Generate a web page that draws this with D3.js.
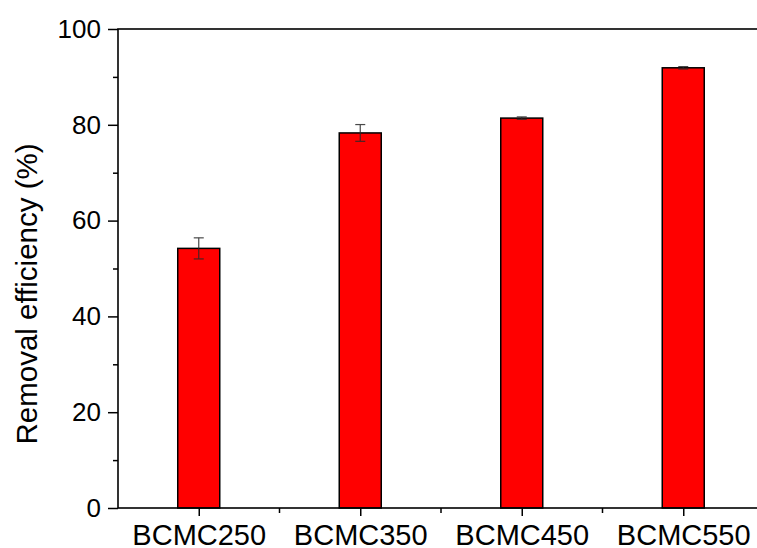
<!DOCTYPE html>
<html>
<head>
<meta charset="utf-8">
<script src="https://cdn.jsdelivr.net/npm/d3@7"></script>
<style>
  html, body { margin: 0; padding: 0; background: #fff; }
  svg { display: block; }
  text { font-family: Arial, "Liberation Sans", sans-serif; fill: #000; }
</style>
</head>
<body>
<svg id="chart" width="757" height="548"></svg>
<script>
// ---- data ----
const categories = ["BCMC250", "BCMC350", "BCMC450", "BCMC550"];
const values = [54.2, 78.3, 81.4, 91.9];
const errors = [2.2, 1.75, 0.25, 0.25];
const yTicks = [0, 20, 40, 60, 80, 100];
const yMinorTicks = [10, 30, 50, 70, 90];
const yLabel = "Removal efficiency (%)";

// ---- layout ----
const plotLeft = 118, plotTop = 29, plotRight = 764, plotBottom = 508;
const barWidth = 42;

const svg = d3.select("#chart");

const x = d3.scaleBand().domain(categories).range([plotLeft, plotRight]).padding(0);
const y = d3.scaleLinear().domain([0, 100]).range([plotBottom, plotTop]);

// bars
svg.append("g").selectAll("rect")
  .data(categories)
  .join("rect")
  .attr("x", (c) => x(c) + x.bandwidth() / 2 - barWidth / 2)
  .attr("y", (c, i) => y(values[i]))
  .attr("width", barWidth)
  .attr("height", (c, i) => y(0) - y(values[i]))
  .attr("fill", "#ff0000")
  .attr("stroke", "#000")
  .attr("stroke-width", 1.5);

// error bars
const eb = svg.append("g").attr("stroke", "#2a2a2a").attr("stroke-width", 1.2).attr("opacity", 0.85);
categories.forEach((c, i) => {
  const cx = x(c) + x.bandwidth() / 2;
  const y1 = y(values[i] + errors[i]), y2 = y(values[i] - errors[i]);
  eb.append("line").attr("x1", cx).attr("x2", cx).attr("y1", y1).attr("y2", y2);
  eb.append("line").attr("x1", cx - 5).attr("x2", cx + 5).attr("y1", y1).attr("y2", y1);
  eb.append("line").attr("x1", cx - 5).attr("x2", cx + 5).attr("y1", y2).attr("y2", y2);
});

// frame
svg.append("rect")
  .attr("x", plotLeft).attr("y", plotTop)
  .attr("width", plotRight - plotLeft).attr("height", plotBottom - plotTop)
  .attr("fill", "none").attr("stroke", "#000").attr("stroke-width", 1.6);

// y axis
const yAxis = d3.axisLeft(y).tickValues(yTicks).tickSize(10).tickPadding(7).tickFormat(d3.format("d"));
const yg = svg.append("g").attr("transform", `translate(${plotLeft},0)`).call(yAxis);
yg.select(".domain").remove();
yg.selectAll(".tick line").attr("stroke", "#000").attr("stroke-width", 1.5);
yg.selectAll(".tick text").style("font-size", "26px").attr("font-family", null);

const yMinor = d3.axisLeft(y).tickValues(yMinorTicks).tickSize(5).tickFormat("");
const ymg = svg.append("g").attr("transform", `translate(${plotLeft},0)`).call(yMinor);
ymg.select(".domain").remove();
ymg.selectAll(".tick line").attr("stroke", "#000").attr("stroke-width", 1.5);

// x axis
const xCenter = d3.scalePoint().domain(categories).range([plotLeft + x.bandwidth() / 2, plotRight - x.bandwidth() / 2]);
const xAxis = d3.axisBottom(xCenter).tickSize(8).tickPadding(8);
const xg = svg.append("g").attr("transform", `translate(0,${plotBottom})`).call(xAxis);
xg.select(".domain").remove();
xg.selectAll(".tick line").attr("stroke", "#000").attr("stroke-width", 1.5);
xg.selectAll(".tick text").style("font-size", "29px").attr("font-family", null);

// minor x ticks at band boundaries
const boundaries = categories.slice(1).map((c) => x(c));
svg.append("g").selectAll("line")
  .data(boundaries)
  .join("line")
  .attr("x1", (d) => d).attr("x2", (d) => d)
  .attr("y1", plotBottom).attr("y2", plotBottom + 5)
  .attr("stroke", "#000").attr("stroke-width", 1.5);

// y label
svg.append("text")
  .attr("transform", `translate(37,294) rotate(-90)`)
  .attr("text-anchor", "middle")
  .style("font-size", "29.5px")
  .text(yLabel);
</script>
</body>
</html>
